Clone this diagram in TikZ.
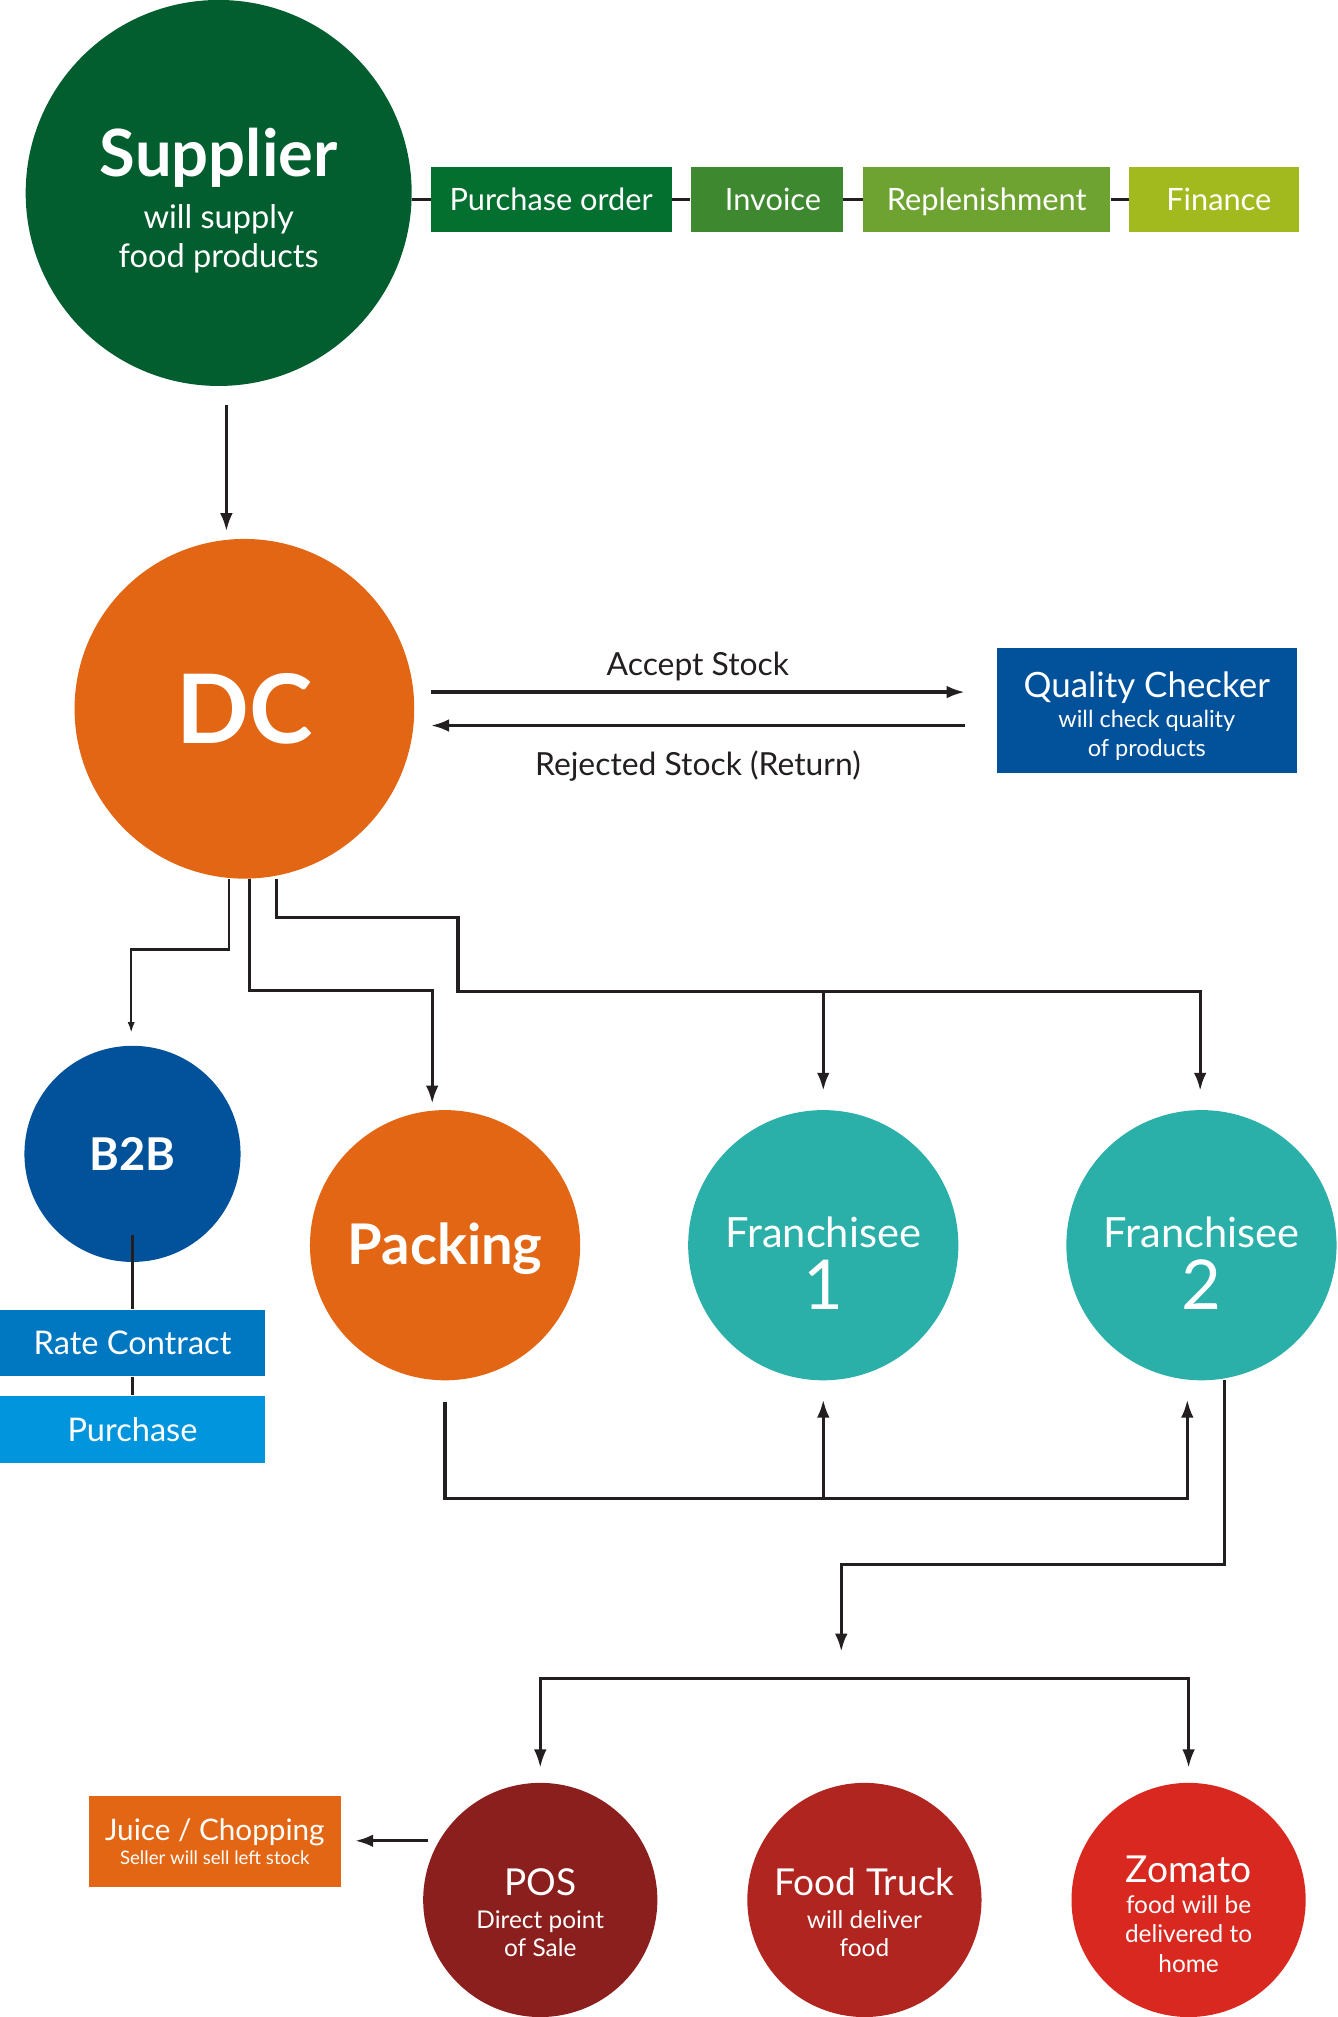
\documentclass[tikz,border=0pt]{standalone}
\usepackage{fontspec}
\setmainfont{Lato}
\usetikzlibrary{arrows.meta, positioning}
\definecolor{supgreen}{HTML}{025E2E}
\definecolor{pogreen}{HTML}{03702F}
\definecolor{invgreen}{HTML}{3E8830}
\definecolor{repgreen}{HTML}{6EA332}
\definecolor{fingreen}{HTML}{A3BA1E}
\definecolor{dcorange}{HTML}{E26614}
\definecolor{qcblue}{HTML}{01529A}
\definecolor{rcblue}{HTML}{0077C1}
\definecolor{purblue}{HTML}{0095DC}
\definecolor{frteal}{HTML}{2BB0A9}
\definecolor{posred}{HTML}{8B1F1E}
\definecolor{truckred}{HTML}{B0251F}
\definecolor{zomred}{HTML}{D8281F}
\definecolor{linkblack}{HTML}{231F20}
\tikzset{
    bubble/.style = {
        circle,
        inner sep=0pt,
        text=white,
        align=center
    },
    tag/.style = {
        rectangle,
        inner sep=0pt,
        text=white,
        align=center
    },
    inner/.style = {
        text=white,
        align=center,
        inner sep=0pt
    },
    link/.style = {
        draw=linkblack,
        line width=1.8pt
    },
    arr/.style = {
        link,
        -{Latex[length=10pt, width=7pt]}
    }
}

\begin{document}
\begin{tikzpicture}[
    x=0.025cm, y=-0.025cm,
    every node/.style={align=center},
    lbl/.style={text=linkblack, font=\fontsize{17.6}{20}\selectfont},
    rowtag/.style={tag, minimum height=1.25cm, text height=16.4pt, text depth=3.6pt, font=\fontsize{17}{20}\selectfont}
]
\useasboundingbox (0,0) rectangle (1040,1568);

% Supplier and the order chain
\node [bubble, fill=supgreen, minimum size=7.5cm,
    label={[inner, yshift=-4.3pt, font=\fontsize{18}{21.3}\selectfont]center:{{\fontsize{36}{36}\selectfont\bfseries Supplier}\\[7.5pt] will supply\\ food products}}] (sup) at (170,150) {};
\node [rowtag, fill=pogreen, minimum width=4.675cm] (po) at (428.5,155) {Purchase order};
\node [rowtag, fill=invgreen, minimum width=2.95cm] (inv) at (596,155) {\hspace{7pt}Invoice};
\node [rowtag, fill=repgreen, minimum width=4.8cm] (rep) at (767,155) {Replenishment};
\node [rowtag, fill=fingreen, minimum width=3.3cm] (fin) at (944,155) {\hspace{5pt}Finance};
\draw [link] (sup.east |- po.west) -- (po.west);
\draw [link] (po.east) -- (inv.west);
\draw [link] (inv.east) -- (rep.west);
\draw [link] (rep.east) -- (fin.west);

% DC and quality check
\node [bubble, fill=dcorange, minimum size=6.6cm, font=\fontsize{53}{53}\selectfont\bfseries] (dc) at (190,551) {DC};
\node [tag, fill=qcblue, minimum width=5.825cm, minimum height=2.425cm,
    label={[inner, yshift=-2.8pt, font=\fontsize{13}{15.6}\selectfont]center:{{\fontsize{19.3}{19.3}\selectfont Quality Checker}\\[1.4pt] will check quality\\ of products}}] (qc) at (891.5,552.5) {};
\coordinate (supout) at (176,315);
\coordinate (dcin) at (176,413);
\draw [arr] (supout) -- (dcin);
\coordinate (acc0) at (335,538);
\coordinate (acc1) at (750,538);
\coordinate (rej0) at (750,564);
\coordinate (rej1) at (335,564);
\draw [arr] (acc0) -- node[lbl, above=2pt] {Accept Stock} (acc1);
\draw [arr] (rej0) -- node[lbl, below=10pt] {Rejected Stock (Return)} (rej1);

% B2B branch
\node [bubble, fill=qcblue, minimum size=4.2cm, font=\fontsize{25}{25}\selectfont\bfseries] (btob) at (103,897) {B2B};
\node [tag, fill=rcblue, minimum width=5.15cm, minimum height=1.3cm, font=\fontsize{18}{20}\selectfont] (rc) at (103,1044) {Rate Contract};
\node [tag, fill=purblue, minimum width=5.15cm, minimum height=1.3cm, font=\fontsize{18}{20}\selectfont] (pur) at (103,1111) {Purchase};
\draw [link, line width=1.4pt] (btob.center) ++(0,63) -- (rc.north);
\draw [link, line width=1.4pt] (rc.south) -- (pur.north);

% Packing and franchisees
\node [bubble, fill=dcorange, minimum size=5.25cm,
    label={[inner, yshift=-2pt, font=\fontsize{31}{31}\selectfont\bfseries]center:Packing}] (pack) at (346,968) {};
\node [bubble, fill=frteal, minimum size=5.25cm,
    label={[inner, yshift=-10pt, font=\fontsize{23}{34}\selectfont]center:{Franchisee\\ {\fontsize{38}{38}\selectfont 1}}}] (fr1) at (640,968) {};
\node [bubble, fill=frteal, minimum size=5.25cm,
    label={[inner, yshift=-10pt, font=\fontsize{23}{34}\selectfont]center:{Franchisee\\ {\fontsize{38}{38}\selectfont 2}}}] (fr2) at (934,968) {};

% DC outputs
\coordinate (btobin) at (102,803);
\coordinate (packin) at (336,858);
\coordinate (fr1in) at (640,848);
\coordinate (fr2in) at (933,848);
\draw [arr, line width=1.4pt, -{Latex[length=6pt, width=4pt]}] (dc.south -| 178,0) |- (102,738) -- (btobin);
\draw [arr] (dc.south -| 194,0) |- (336,770) -- (packin);
\draw [arr] (dc.south -| 215,0) |- (356,713) |- (640,771) -| (fr2in);
\draw [arr] (640,771) -- (fr1in);

% Packing back to franchisees
\coordinate (packout) at (346,1090);
\coordinate (fr1up) at (640,1088);
\coordinate (fr2up) at (923,1088);
\coordinate (joint) at (640,1165);
\draw [arr] (packout) |- (joint) -| (fr2up);
\draw [arr] (joint) -- (fr1up);

% Retail outlets
\node [bubble, fill=posred, minimum size=4.55cm,
    label={[inner, yshift=-7pt, font=\fontsize{13.5}{15.6}\selectfont]center:{{\fontsize{20.5}{20.5}\selectfont POS}\\[2.4pt] Direct point\\ of Sale}}] (pos) at (420,1477) {};
\node [bubble, fill=truckred, minimum size=4.55cm,
    label={[inner, yshift=-7pt, font=\fontsize{13.5}{15.6}\selectfont]center:{{\fontsize{20.5}{20.5}\selectfont Food Truck}\\[2.4pt] will deliver\\ food}}] (truck) at (672,1477) {};
\node [bubble, fill=zomred, minimum size=4.55cm,
    label={[inner, yshift=-7.8pt, font=\fontsize{13.5}{16.4}\selectfont]center:{{\fontsize{20.5}{20.5}\selectfont Zomato}\\[0.8pt] food will be\\ delivered to\\ home}}] (zom) at (924,1477) {};
\node [tag, fill=dcorange, minimum width=4.9cm, minimum height=1.775cm, font=\fontsize{10.3}{13.5}\selectfont] (juice) at (167,1431.5)
    {{\fontsize{16.4}{16.4}\selectfont Juice / Chopping}\\ Seller will sell left stock};
\coordinate (fr2out) at (952,1073);
\coordinate (retin) at (654,1284);
\coordinate (bar) at (672,1305);
\coordinate (posin) at (420,1374);
\coordinate (zomin) at (924,1374);
\draw [arr] (fr2out) |- (654,1216) -- (retin);
\draw [link, line width=1.4pt, {Latex[length=10pt, width=7pt]}-{Latex[length=10pt, width=7pt]}] (posin) |- (bar) -| (zomin);
\coordinate (posout) at (333,1431);
\coordinate (juicein) at (276,1431);
\draw [arr] (posout) -- (juicein);

\end{tikzpicture}
\end{document}
